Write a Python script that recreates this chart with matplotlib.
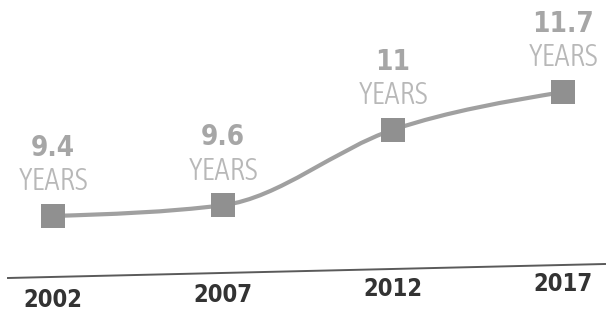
import matplotlib
matplotlib.use("Agg")
import matplotlib.pyplot as plt
from matplotlib.path import Path
from matplotlib.patches import PathPatch
from matplotlib import font_manager
from matplotlib.font_manager import FontProperties
import numpy as np

years = [2002, 2007, 2012, 2017]
values = [9.4, 9.6, 11.0, 11.7]
value_labels = ["9.4", "9.6", "11", "11.7"]
unit_label = "YEARS"
tick_labels = ["2002", "2007", "2012", "2017"]


def pick_font(target):
    cands = []
    for f in font_manager.fontManager.ttflist:
        nm = f.name
        narrowish = ("Narrow" in nm or "Condensed" in nm or
                     str(f.stretch) in ("condensed", "semi-condensed", "extra-condensed", "ultra-condensed"))
        if not narrowish or f.style != "normal":
            continue
        w = f.weight if isinstance(f.weight, int) else (700 if "bold" in str(f.weight) else 400)
        cands.append((abs(w - target), f.fname, nm))
    if cands:
        cands.sort()
        return FontProperties(fname=cands[0][1]), True
    return FontProperties(family="Liberation Sans", weight="bold" if target >= 600 else "normal"), False


fp_bold, ok_b = pick_font(700)
fp_reg, ok_r = pick_font(300)

W, H = 615, 311
fig = plt.figure(figsize=(W / 100, H / 100), dpi=100)
ax = fig.add_axes([0, 0, 1, 1])
ax.set_axis_off()

pxx = (563 - 53) / 15.0
pxy = (216 - 92) / 2.3
ax.set_xlim(2002 - 53 / pxx, 2002 + (W - 53) / pxx)
ax.set_ylim(9.4 - (H - 216) / pxy, 9.4 + 216 / pxy)

# monotone cubic (d3 monotoneX style) rendering of the line through the data points
x = np.array(years, float)
y = np.array(values, float)
h = np.diff(x)
s = np.diff(y) / h
t = np.zeros(len(x))
for i in range(1, len(x) - 1):
    p = (s[i - 1] * h[i] + s[i] * h[i - 1]) / (h[i - 1] + h[i])
    t[i] = (np.sign(s[i - 1]) + np.sign(s[i])) * min(abs(s[i - 1]), abs(s[i]), 0.5 * abs(p))
t[0] = (3 * s[0] - t[1]) / 2
t[-1] = (3 * s[-1] - t[-2]) / 2
verts = [(x[0], y[0])]
codes = [Path.MOVETO]
for i in range(len(x) - 1):
    dx = h[i] / 3
    verts += [(x[i] + dx, y[i] + dx * t[i]), (x[i + 1] - dx, y[i + 1] - dx * t[i + 1]), (x[i + 1], y[i + 1])]
    codes += [Path.CURVE4] * 3
ax.add_patch(PathPatch(Path(verts, codes), facecolor="none", edgecolor="#a0a0a0", lw=3.0, zorder=2))

ax.scatter(years, values, marker="s", s=300, color="#909090", zorder=3, linewidths=0)

size_units = 22 if ok_r else 16
size_vals = 20 if ok_b else 17
size_ticks = 17 if ok_b else 15

for xi, yi, lab in zip(years, values, value_labels):
    ax.annotate(unit_label, (xi, yi), xytext=(0, 34), textcoords="offset pixels",
                ha="center", va="center", fontproperties=fp_reg, fontsize=size_units,
                color="#b8b8b8")
    ax.annotate(lab, (xi, yi), xytext=(0, 68), textcoords="offset pixels",
                ha="center", va="center", fontproperties=fp_bold, fontsize=size_vals,
                color="#a6a6a6")

# slightly tilted baseline (as in the scanned original)
ax.plot([8 / W, 605 / W], [1 - 278 / H, 1 - 264 / H], transform=ax.transAxes,
        color="#5a5a5a", lw=1.4, zorder=1)

for xi, lab in zip(years, tick_labels):
    xp = 53 + (xi - 2002) * pxx
    yp = 300 - (xp - 46) * (16 / 523)
    ax.text(xp / W, 1 - yp / H, lab, transform=ax.transAxes,
            ha="center", va="center", fontproperties=fp_bold, fontsize=size_ticks,
            color="#333333")

fig.savefig("out.png", dpi=100, facecolor="white")
